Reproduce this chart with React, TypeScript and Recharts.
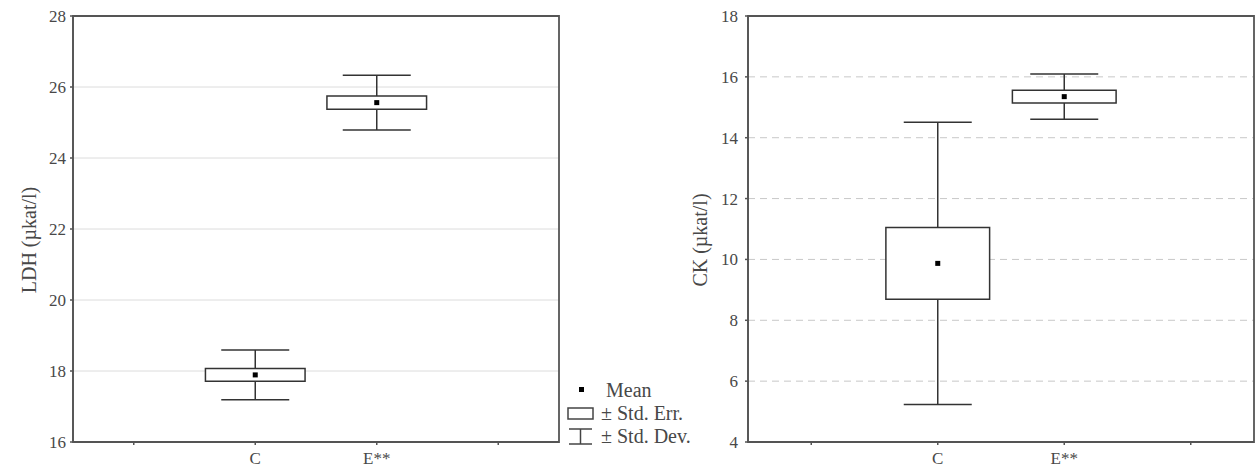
import {
  ComposedChart,
  Scatter,
  ErrorBar,
  XAxis,
  YAxis,
  CartesianGrid,
  ReferenceArea,
} from "recharts";

// category slots on the x axis (outer ones are empty, like the original)
const slots = ["", "C", "E**", ""];
const groups = ["C", "E**"];

const ldhMean = [17.89, 25.56];
const ldhSe = [0.18, 0.19];
const ldhSd = [0.7, 0.77];
const ldhTicks = [16, 18, 20, 22, 24, 26, 28];

const ckMean = [9.87, 15.35];
const ckSe = [1.18, 0.21];
const ckSd = [4.64, 0.74];
const ckTicks = [4, 6, 8, 10, 12, 14, 16, 18];

const legendLabels = ["Mean", "± Std. Err.", "± Std. Dev."];

const FONT = "'Liberation Serif', 'DejaVu Serif', serif";
const INK = "#484848";
const BOX_HALF = 0.41;

interface BoxChartProps {
  means: number[];
  ses: number[];
  sds: number[];
  ticks: number[];
  yLabel: string;
  width: number;
  yAxisWidth: number;
  titleX: number;
  tickGap: number;
  dashedGrid?: boolean;
}

function MeanDot(props: any) {
  const { cx, cy } = props;
  return <rect x={cx - 2.5} y={cy - 2.5} width={5} height={5} fill="#000" />;
}

function NoDot() {
  return <g />;
}

function YTitle(props: any) {
  const { viewBox, value, dx } = props;
  const x = viewBox.x + dx;
  const y = viewBox.y + viewBox.height / 2 + 11;
  return (
    <text
      x={x}
      y={y}
      transform={`rotate(-90 ${x} ${y})`}
      textAnchor="middle"
      dominantBaseline="central"
      fontFamily={FONT}
      fontSize={20}
      fill={INK}
    >
      {value}
    </text>
  );
}

function BoxChart({
  means,
  ses,
  sds,
  ticks,
  yLabel,
  width,
  yAxisWidth,
  titleX,
  tickGap,
  dashedGrid,
}: BoxChartProps) {
  const data = groups.map((g, i) => ({
    x: slots.indexOf(g) + 0.5,
    mean: means[i],
    se: ses[i],
    sd: sds[i],
  }));
  const yMin = ticks[0];
  const yMax = ticks[ticks.length - 1];
  const xTicks = slots.map((_, i) => i + 0.5);
  const tickStyle = { fontFamily: FONT, fontSize: 17, fill: INK };

  return (
    <ComposedChart
      width={width}
      height={474}
      data={data}
      margin={{ top: 16, right: 1, bottom: 12, left: 0 }}
    >
      <CartesianGrid
        vertical={false}
        stroke={dashedGrid ? "#c8c8c8" : "#dcdcdc"}
        strokeDasharray={dashedGrid ? "7 5" : undefined}
      />
      <XAxis
        dataKey="x"
        type="number"
        domain={[0, slots.length]}
        ticks={xTicks}
        tickFormatter={(v) => slots[Math.floor(v)]}
        height={20}
        tickSize={3}
        tickMargin={7}
        stroke="#555"
        strokeWidth={1.5}
        tick={tickStyle}
      />
      <XAxis
        xAxisId="top"
        orientation="top"
        dataKey="x"
        type="number"
        domain={[0, slots.length]}
        ticks={xTicks}
        tickFormatter={() => ""}
        height={0}
        tickSize={3}
        stroke="#555"
        strokeWidth={1.5}
      />
      <YAxis
        type="number"
        domain={[yMin, yMax]}
        ticks={ticks}
        width={yAxisWidth}
        tickSize={3}
        tickMargin={tickGap}
        stroke="#555"
        strokeWidth={1.5}
        tick={tickStyle}
        label={<YTitle value={yLabel} dx={titleX} />}
      />
      <YAxis
        yAxisId="right"
        orientation="right"
        type="number"
        domain={[yMin, yMax]}
        ticks={ticks}
        tickFormatter={() => ""}
        width={0}
        tickSize={3}
        stroke="#555"
        strokeWidth={1.5}
      />
      {/* plot frame */}
      <ReferenceArea
        x1={0}
        x2={slots.length}
        y1={yMin}
        y2={yMax}
        fill="none"
        stroke="#555"
        strokeWidth={1.8}
      />
      {/* whiskers: mean ± std. dev. */}
      <Scatter
        dataKey="mean"
        xAxisId="top"
        yAxisId="right"
        shape={NoDot}
        isAnimationActive={false}
      >
        <ErrorBar
          dataKey="sd"
          direction="y"
          width={34}
          stroke="#333"
          strokeWidth={1.5}
          isAnimationActive={false}
        />
      </Scatter>
      {/* boxes: mean ± std. err. */}
      {data.map((d) => (
        <ReferenceArea
          key={d.x}
          x1={d.x - BOX_HALF}
          x2={d.x + BOX_HALF}
          y1={d.mean - d.se}
          y2={d.mean + d.se}
          fill="#fff"
          fillOpacity={1}
          stroke="#333"
          strokeWidth={1.5}
          zIndex={1500}
        />
      ))}
      <Scatter
        dataKey="mean"
        shape={MeanDot}
        isAnimationActive={false}
        zIndex={1600}
      />
    </ComposedChart>
  );
}

function LegendBox() {
  const rows = 23;
  return (
    <svg width={150} height={80}>
      {legendLabels.map((name, i) => {
        const cy = 12 + i * rows;
        let icon;
        if (i === 0) {
          icon = <rect x={14} y={cy - 3} width={5} height={5} fill="#000" />;
        } else if (i === 1) {
          icon = (
            <rect x={3} y={cy - 5} width={25} height={11} fill="#fff" stroke="#444" strokeWidth={1.5} />
          );
        } else {
          icon = (
            <g stroke="#444" strokeWidth={1.5}>
              <line x1={4} y1={cy - 7} x2={27} y2={cy - 7} />
              <line x1={15.5} y1={cy - 7} x2={15.5} y2={cy + 8} />
              <line x1={4} y1={cy + 8} x2={27} y2={cy + 8} />
            </g>
          );
        }
        return (
          <g key={name}>
            {icon}
            <text
              x={i === 0 ? 41 : 36}
              y={cy}
              dominantBaseline="central"
              fontFamily={FONT}
              fontSize={20}
              fill={INK}
            >
              {name}
            </text>
          </g>
        );
      })}
    </svg>
  );
}

export default function App() {
  return (
    <div
      style={{
        position: "absolute",
        left: 0,
        top: 0,
        width: 1255,
        height: 474,
        background: "#fff",
      }}
    >
      <div style={{ position: "absolute", left: 0, top: 0 }}>
        <BoxChart
          means={ldhMean}
          ses={ldhSe}
          sds={ldhSd}
          ticks={ldhTicks}
          yLabel="LDH (µkat/l)"
          width={560}
          yAxisWidth={73}
          titleX={29}
          tickGap={4}
        />
      </div>
      <div style={{ position: "absolute", left: 565, top: 378 }}>
        <LegendBox />
      </div>
      <div style={{ position: "absolute", left: 660, top: 0 }}>
        <BoxChart
          means={ckMean}
          ses={ckSe}
          sds={ckSd}
          ticks={ckTicks}
          yLabel="CK (µkat/l)"
          width={595}
          yAxisWidth={88}
          titleX={40}
          tickGap={7}
          dashedGrid
        />
      </div>
    </div>
  );
}
